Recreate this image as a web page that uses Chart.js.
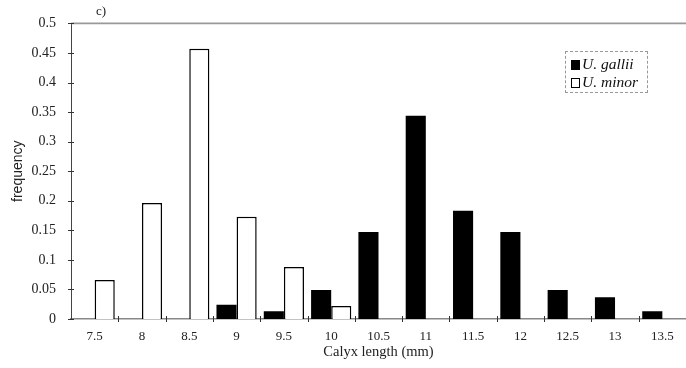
<!DOCTYPE html>
<html>
<head>
<meta charset="utf-8">
<script src="https://cdn.jsdelivr.net/npm/chart.js@4/dist/chart.umd.min.js"></script>
<style>
  body { margin: 0; background: #fff; }
  #wrap { position: relative; width: 686px; height: 368px; }
  #panel { position: absolute; left: 96px; top: 3px; font: 13px "Liberation Serif", serif; color: #222; }
  #legend {
    position: absolute; left: 565px; top: 51px; width: 83px; height: 42px;
    border: 1px dashed #999; box-sizing: border-box;
    font: italic 15.5px "Liberation Serif", serif; color: #111;
  }
  #legend div { position: absolute; left: 5px; height: 18px; line-height: 18px; white-space: nowrap; }
  #legend span.sw { display: inline-block; width: 9px; height: 10px; margin-right: 2px; vertical-align: -1px; box-sizing: border-box; border: 1.5px solid #000; }
</style>
</head>
<body>
<div id="wrap">
  <canvas id="chart" width="686" height="368"></canvas>
  <div id="panel">c)</div>
  <div id="legend">
    <div style="top:3px"><span class="sw" style="background:#000"></span>U. gallii</div>
    <div style="top:21px"><span class="sw" style="background:#fff"></span>U. minor</div>
  </div>
</div>
<script>
// Calyx length classes (mm)
const categories = ["7.5", "8", "8.5", "9", "9.5", "10", "10.5", "11", "11.5", "12", "12.5", "13", "13.5"];

// relative frequency per class
const galliiValues = [null, null, null, 0.024, 0.013, 0.049, 0.147, 0.344, 0.183, 0.147, 0.049, 0.037, 0.013];
const minorValues = [0.066, 0.196, 0.457, 0.173, 0.088, 0.022, null, null, null, null, null, null, null];

const yTickLabels = ["0", "0.05", "0.1", "0.15", "0.2", "0.25", "0.3", "0.35", "0.4", "0.45", "0.5"];

Chart.defaults.font.family = "'Liberation Serif', serif";
Chart.defaults.color = "#222";

// small cross ticks on both axes plus the top frame line
const axisMarks = {
  id: "axisMarks",
  afterDraw(chart) {
    const ctx = chart.ctx;
    const x = chart.scales.x;
    const y = chart.scales.y;
    const area = chart.chartArea;
    ctx.save();
    ctx.strokeStyle = "#999";
    ctx.lineWidth = 1.6;
    ctx.beginPath();
    ctx.moveTo(area.left, y.getPixelForValue(0.5));
    ctx.lineTo(area.right, y.getPixelForValue(0.5));
    ctx.stroke();

    ctx.strokeStyle = "#333";
    ctx.lineWidth = 1;
    y.ticks.forEach(t => {
      const py = Math.round(y.getPixelForValue(t.value)) + 0.5;
      ctx.beginPath();
      ctx.moveTo(area.left - 3, py);
      ctx.lineTo(area.left + 3, py);
      ctx.stroke();
    });
    for (let i = 0; i < categories.length - 1; i++) {
      const px = Math.round(x.getPixelForValue(i + 0.5)) + 0.5;
      ctx.beginPath();
      ctx.moveTo(px, area.bottom - 3);
      ctx.lineTo(px, area.bottom + 3);
      ctx.stroke();
    }
    ctx.restore();
  }
};

new Chart(document.getElementById("chart"), {
  type: "bar",
  data: {
    labels: categories,
    datasets: [
      {
        label: "U. gallii",
        data: galliiValues,
        backgroundColor: "#000",
        borderWidth: 0
      },
      {
        label: "U. minor",
        data: minorValues,
        backgroundColor: "#fff",
        borderColor: "#000",
        borderWidth: 1.5
      }
    ]
  },
  options: {
    responsive: false,
    animation: false,
    layout: { padding: { top: 20, right: 0, bottom: 0, left: 0 } },
    datasets: {
      bar: { categoryPercentage: 0.85, barPercentage: 1.0 }
    },
    plugins: {
      legend: { display: false },
      tooltip: { enabled: false }
    },
    scales: {
      x: {
        offset: true,
        grid: { display: false, drawTicks: false },
        border: { display: true, color: "#888", width: 1.5 },
        ticks: { padding: 10, font: { size: 13 }, maxRotation: 0 },
        title: {
          display: true,
          text: "Calyx length (mm)",
          font: { size: 14.5 },
          padding: { top: 0, bottom: 7 }
        },
        afterFit(scale) { scale.height = 49; }
      },
      y: {
        min: 0,
        max: 0.5,
        grid: { display: false, drawTicks: false },
        border: { display: true, color: "#444", width: 1, dash: [3, 2] },
        ticks: {
          stepSize: 0.05,
          padding: 15,
          font: { size: 14 },
          callback: (v, i) => yTickLabels[i]
        },
        title: {
          display: true,
          text: "frequency",
          font: { family: "'Liberation Sans', sans-serif", size: 14 },
          padding: { top: 10, bottom: 0 }
        },
        afterFit(scale) { scale.width = 71; }
      }
    }
  },
  plugins: [axisMarks]
});
</script>
</body>
</html>
